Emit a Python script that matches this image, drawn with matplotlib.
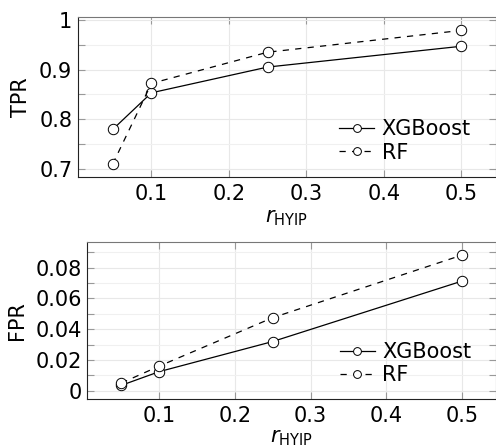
import numpy as np
import matplotlib
matplotlib.use("Agg")
import matplotlib.pyplot as plt
from matplotlib.ticker import MultipleLocator

r = [0.05, 0.1, 0.25, 0.5]
tpr_xgb = [0.779, 0.853, 0.905, 0.947]
tpr_rf = [0.709, 0.872, 0.935, 0.979]
fpr_xgb = [0.0035, 0.0124, 0.032, 0.0713]
fpr_rf = [0.005, 0.016, 0.0475, 0.0882]

plt.rcParams['font.family'] = 'DejaVu Sans'
plt.rcParams['mathtext.fontset'] = 'dejavusans'
fs = 15

fig = plt.figure(figsize=(4.96, 4.48), dpi=100)
ax1 = fig.add_axes([0.157, 0.605, 0.843, 0.358])
ax2 = fig.add_axes([0.176, 0.109, 0.824, 0.350])

def style(ax, ymin, lp):
    ax.xaxis.set_major_locator(MultipleLocator(0.1))
    ax.yaxis.set_minor_locator(MultipleLocator(ymin))
    ax.grid(True, which='major', color='#e8e8e8', lw=0.8)
    ax.grid(True, which='minor', axis='y', color='#f0f0f0', lw=0.8)
    ax.set_axisbelow(True)
    ax.tick_params(which='both', direction='in', top=True, right=True,
                   color='#999999', length=5, width=0.8, labelsize=fs)
    ax.tick_params(axis='x', pad=5)
    ax.tick_params(axis='y', pad=4)
    for s in ['left', 'bottom']:
        ax.spines[s].set_color('#222222')
    ax.spines['top'].set_color('#777777')
    ax.spines['right'].set_color('#777777')
    ax.set_xlim(0.005, 0.545)
    ax.set_xlabel(r'$r_{\mathrm{HYIP}}$', fontsize=fs, labelpad=lp)

mk = dict(marker='o', mfc='white', mec='black', ms=7.5, mew=0.7, color='black', lw=0.9)

ax1.plot(r, tpr_xgb, '-', label='XGBoost', **mk)
ax1.plot(r, tpr_rf, ls=(0, (5, 5)), label='RF', **mk)
ax1.set_ylim(0.683, 1.007)
ax1.set_yticks([0.7, 0.8, 0.9, 1.0])
ax1.set_yticklabels(['0.7', '0.8', '0.9', '1'])
style(ax1, 0.05, 3)
ax1.set_ylabel('TPR', fontsize=fs, labelpad=6)

ax2.plot(r, fpr_xgb, '-', label='XGBoost', **mk)
ax2.plot(r, fpr_rf, ls=(0, (5, 5)), label='RF', **mk)
ax2.set_ylim(-0.0055, 0.0965)
ax2.set_yticks([0, 0.02, 0.04, 0.06, 0.08])
ax2.set_yticklabels(['0', '0.02', '0.04', '0.06', '0.08'])
style(ax2, 0.01, 1)
ax2.set_ylabel('FPR', fontsize=fs, labelpad=6)

for ax in (ax1, ax2):
    ax.legend(loc='lower right', bbox_to_anchor=(0.94, 0.09), frameon=False,
              fontsize=fs, handlelength=1.7, handletextpad=0.35,
              labelspacing=0.15, borderpad=0, borderaxespad=0,
              markerscale=0.75)

fig.savefig('out.png', dpi=100)
